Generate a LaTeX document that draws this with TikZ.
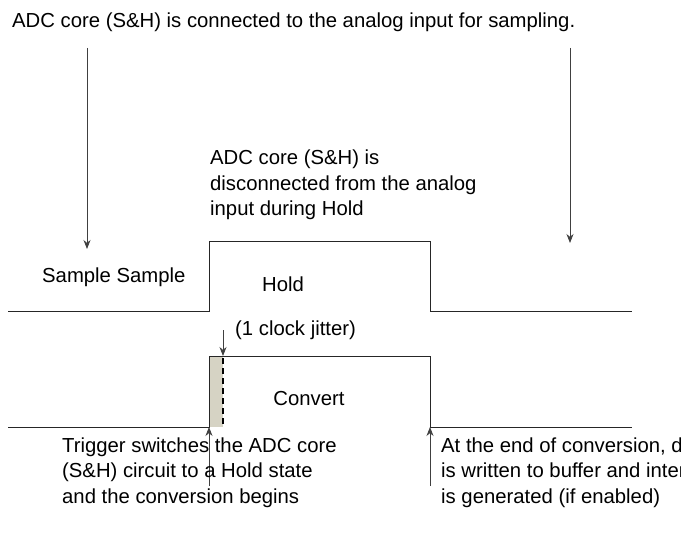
\documentclass[tikz,border=0pt]{standalone}
\usepackage{fontspec}
\setmainfont{Liberation Sans}
\usetikzlibrary{arrows.meta}
\begin{document}
\begin{tikzpicture}[x=1pt,y=-1pt,
  txt/.style={anchor=west,inner sep=0,font=\fontsize{20.3}{25.5}\selectfont,align=left},
  wave/.style={line width=1pt,color=black!85},
  arr/.style={line width=0.8pt,color=black!75,-{Stealth[length=9pt,width=7pt]}}]
\useasboundingbox (0,0) rectangle (681,559);
\node[txt] (top) at (12,22) {ADC core (S\&H) is connected to the analog input for sampling.};
\coordinate (la1) at (87,48); \coordinate (la2) at (87,249);
\coordinate (ra1) at (570,48); \coordinate (ra2) at (570,243);
\draw[arr] (la1) -- (la2);
\draw[arr] (ra1) -- (ra2);
\node[txt,anchor=north west] (disc) at (210,150) {ADC core (S\&H) is\\disconnected from the analog\\input during Hold};
\node[txt] (samp) at (42,277) {Sample Sample};
\node[txt,anchor=center] (hold) at (283,284) {Hold};
\fill[fill={rgb,255:red,214;green,211;blue,196}] (209,356) rectangle (223,427);
\draw[wave] (8,311) -- (209,311) -- (209,242) -- (430,242) -- (430,311) -- (632,311);
\draw[wave] (8,427) -- (209,427) -- (209,356) -- (430,356) -- (430,427) -- (632,427);
\draw[line width=2pt,dash pattern=on 6pt off 4pt] (223,358) -- (223,427);
\coordinate (j1) at (223,330); \coordinate (j2) at (223,356);
\draw[arr] (j1) -- (j2);
\node[txt] (jit) at (235,330) {(1 clock jitter)};
\node[txt,anchor=center] (conv) at (309,399) {Convert};
\coordinate (b1) at (209,486); \coordinate (b1t) at (209,427);
\coordinate (b2) at (430,486); \coordinate (b2t) at (430,427);
\draw[arr] (b1) -- (b1t);
\draw[arr] (b2) -- (b2t);
\node[txt,anchor=base west] (trig) at (62,503) {Trigger switches the ADC core\\(S\&H) circuit to a Hold state\\and the conversion begins};
\node[txt,anchor=base west] (eoc) at (441,503) {At the end of conversion, data\\is written to buffer and interrupt\\is generated (if enabled)};
\end{tikzpicture}
\end{document}
